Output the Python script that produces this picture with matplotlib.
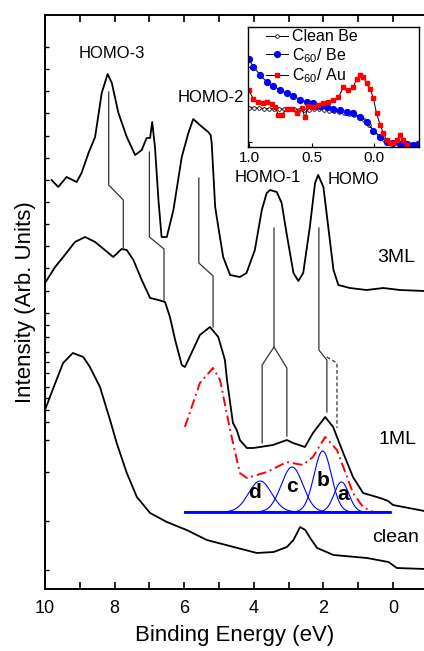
import numpy as np
import matplotlib
matplotlib.use('Agg')
import matplotlib.pyplot as plt
from matplotlib.ticker import FixedLocator

plt.rcParams['font.family'] = ['Liberation Sans', 'DejaVu Sans']
plt.rcParams['mathtext.fontset'] = 'custom'
plt.rcParams['mathtext.rm'] = 'Liberation Sans'

# --- main spectra (binding energy in eV, intensity arb. units) ---
clean_e = [10, 9.76, 9.48, 9.2, 8.9, 8.71, 8.42, 8.13, 7.94, 7.65, 7.36, 6.98, 6.5,
           5.93, 5.35, 4.58, 3.91, 3.43, 3.05, 2.86, 2.67, 2.52, 2.38, 2.18, 1.71,
           0.75, 0.13, -0.11, -0.9]
clean_i = [241, 263, 288, 298, 294, 284, 264, 231, 208, 178, 154, 138, 129,
           121, 111, 104, 98, 99, 104, 111, 124, 121, 113, 103, 96,
           93, 89, 83, 82]

ml1_e = [10, 9.71, 9.43, 9.14, 8.85, 8.56, 8.28, 8.04, 7.8, 7.65, 7.46, 7.22, 6.98,
         6.74, 6.55, 6.41, 6.26, 6.07, 5.98, 5.79, 5.55, 5.26, 5.02, 4.83, 4.77,
         4.6, 4.49, 4.4, 4.2, 4.02, 3.82, 3.45, 3.05, 2.87, 2.53, 2.3, 1.95, 1.72,
         1.43, 1.15, 0.86, 0.37, 0.14, 0.0, -0.9]
ml1_i = [368, 384, 396, 409, 414, 409, 401, 394, 402, 401, 391, 371, 353,
         351, 349, 334, 311, 286, 284, 298, 316, 324, 314, 291, 271,
         228, 221, 211, 203, 203, 204, 206, 211, 208, 204, 218, 234, 224,
         198, 174, 158, 153, 150, 146, 140]

ml3_e = [9.81, 9.62, 9.38, 9.09, 8.95, 8.75, 8.56, 8.37, 8.2, 8.08, 7.89, 7.65, 7.41,
         7.22, 7.08, 6.98, 6.92, 6.84, 6.74, 6.65, 6.5, 6.31, 6.07, 5.88, 5.74,
         5.55, 5.31, 5.24, 5.21, 5.11, 5.02, 4.88, 4.68, 4.4, 4.21, 3.97, 3.77,
         3.63, 3.53, 3.34, 3.2, 3.06, 2.86, 2.72, 2.58, 2.39, 2.24, 2.15, 2.0,
         1.86, 1.71, 1.57, 1.24, 0.76, 0.28, -0.2, -0.9]
ml3_i = [471, 464, 474, 469, 478, 498, 514, 558, 577, 568, 538, 514, 496,
         501, 513, 513, 529, 504, 451, 414, 414, 441, 494, 518, 532,
         526, 519, 516, 508, 444, 424, 394, 376, 374, 378, 401, 441,
         458, 461, 459, 448, 418, 378, 370, 378, 424, 468, 476, 464,
         424, 381, 366, 363, 361, 363, 361, 360]

# fit envelope (red dash-dot)
fit_e = [5.98, 5.55, 5.17, 4.97, 4.68, 4.4, 4.2, 3.62, 3.05, 2.59, 2.3, 1.95, 1.61,
         1.32, 1.15, 0.86, 0.57]
fit_i = [224, 268, 283, 271, 221, 178, 173, 179, 189, 186, 194, 214, 201,
         174, 158, 144, 139]

# gaussian components a-d
comp_names = ['d', 'c', 'b', 'a']
comp_center = [3.82, 2.90, 2.02, 1.48]
comp_height = [31, 45, 61, 30]
comp_sigma = [0.33, 0.31, 0.25, 0.21]
comp_label_e = [3.97, 2.90, 2.01, 1.44]
comp_label_i = [158, 164, 170, 156]
comp_base = 139
comp_range = (5.98, 0.09)

# peak correlation guide lines
guides = [
    ([8.17, 8.17, 7.75, 7.75], [559, 466, 451, 403]),
    ([7.0, 7.0, 6.58, 6.58], [499, 414, 402, 351]),
    ([5.58, 5.58, 5.17, 5.17], [473, 388, 375, 324]),
    ([3.42, 3.42, 3.76, 3.76], [423, 304, 286, 208]),
    ([3.42, 3.05, 3.05], [304, 283, 215]),
    ([2.13, 2.13, 1.9, 1.9], [423, 301, 291, 239]),
]
guide_dash = ([1.9, 1.61, 1.61], [294, 288, 223])

# --- inset: valence band edge ---
be_e = [1.0, 0.96, 0.92, 0.88, 0.84, 0.80, 0.76, 0.72, 0.68, 0.64, 0.60, 0.56, 0.52,
        0.48, 0.44, 0.40, 0.36, 0.32, 0.28, 0.24, 0.20, 0.16, 0.12, 0.08, 0.04, 0.0,
        -0.04, -0.08, -0.12, -0.16, -0.20, -0.24, -0.28, -0.32, -0.36]
be_i = [39, 39, 39, 38.5, 38.5, 38.5, 38, 38, 38, 38, 37.5, 37, 37.5,
        38, 38, 37.5, 36.5, 36, 35, 34, 33.5, 32, 30, 27, 22, 16,
        11, 7, 5, 4, 3.5, 3, 2.8, 2.5, 2.5]

c60be_e = [1.0, 0.965, 0.91, 0.86, 0.805, 0.75, 0.7, 0.645, 0.59, 0.54, 0.485, 0.43,
           0.38, 0.325, 0.27, 0.22, 0.165, 0.11, 0.06, 0.005, -0.05, -0.1, -0.155,
           -0.21, -0.26, -0.315, -0.355]
c60be_i = [88, 80, 72, 65.3, 61, 57, 54, 51, 47, 45.3, 43.7, 41,
           39.7, 38.3, 37, 35.3, 33.7, 30.3, 25.3, 16.3, 10.3, 5.3, 3.7,
           3, 2.7, 2.3, 2.7]

c60au_e = [1.0, 0.965, 0.925, 0.885, 0.86, 0.82, 0.79, 0.765, 0.74, 0.7, 0.66, 0.62,
           0.58, 0.55, 0.525, 0.485, 0.445, 0.405, 0.365, 0.325, 0.285, 0.245, 0.205,
           0.165, 0.14, 0.11, 0.085, 0.06, 0.03, 0.005, -0.02, -0.05, -0.075, -0.1,
           -0.13, -0.155, -0.18, -0.21, -0.235, -0.26]
c60au_i = [57, 47.7, 45.3, 44.3, 45.3, 43, 40.3, 32, 32, 37.7, 37.7, 33.7,
           38.7, 29.7, 41, 40.3, 42, 43.7, 45.3, 47, 49.7, 59.7, 57,
           60.3, 67.7, 72, 69.7, 63.7, 57.7, 48.7, 33.7, 22, 13.7, 7,
           4.3, 4.3, 7, 12, 7, 2]

fig = plt.figure(figsize=(4.24, 6.51), dpi=100)
ax = fig.add_axes([45/424, 62/651, 1 - 45/424, 574/651])

lc = '0.2'
ax.plot(clean_e, clean_i, color='k', lw=1.3)
ax.plot(ml1_e, ml1_i, color='k', lw=1.3)
ax.plot(ml3_e, ml3_i, color='k', lw=1.3)
for gx, gy in guides:
    ax.plot(gx, gy, color=lc, lw=0.9)
ax.plot(guide_dash[0], guide_dash[1], color=lc, lw=0.9, ls=(0, (3, 2)))

ax.plot(fit_e, fit_i, color='red', lw=1.4, ls=(0, (5, 2, 1, 2)))

xg = np.linspace(comp_range[0], comp_range[1], 300)
for c, h, s in zip(comp_center, comp_height, comp_sigma):
    ax.plot(xg, comp_base + h * np.exp(-0.5 * ((xg - c) / s) ** 2), color='blue', lw=0.8)
ax.plot(comp_range, [comp_base, comp_base], color='blue', lw=2)

for name, le, li in zip(comp_names, comp_label_e, comp_label_i):
    ax.text(le, li, name, fontsize=15, fontweight='bold', ha='center', va='center')

ax.text(8.07, 598, 'HOMO-3', fontsize=12, ha='center', va='center')
ax.text(5.23, 554, 'HOMO-2', fontsize=12, ha='center', va='center')
ax.text(3.59, 473, 'HOMO-1', fontsize=12, ha='center', va='center')
ax.text(1.15, 471, 'HOMO', fontsize=12, ha='center', va='center')
ax.text(-0.09, 393, '3ML', fontsize=14, ha='center', va='center')
ax.text(-0.14, 211, '1ML', fontsize=14, ha='center', va='center')
ax.text(-0.06, 113, 'clean', fontsize=14, ha='center', va='center')

ax.set_xlim(10, 10 - 379/34.8)
ax.set_ylim(651 - 589, 651 - 15)
ax.xaxis.set_major_locator(FixedLocator([10, 8, 6, 4, 2, 0]))
ax.xaxis.set_minor_locator(FixedLocator([9, 7, 5, 3, 1]))
ytk = [604, 582, 560, 538, 515, 493, 471, 449, 427, 405, 383, 360, 338, 326, 314,
       299, 289, 278, 264, 253, 241, 229, 211, 179, 130, 81]
ax.yaxis.set_major_locator(FixedLocator(ytk))
ax.set_yticklabels([])
ax.tick_params(axis='x', which='both', direction='in', top=True, labelsize=13,
               length=5, width=1.2, pad=8)
ax.tick_params(axis='y', which='both', direction='in', length=3, width=1)
ax.spines['right'].set_visible(False)
for s in ['left', 'bottom', 'top']:
    ax.spines[s].set_linewidth(1.4)
ax.set_xlabel('Binding Energy (eV)', fontsize=16, labelpad=6)
ax.set_ylabel('Intensity (Arb. Units)', fontsize=16, labelpad=3)

# inset
ins = fig.add_axes([248/424, (651-147)/651, 171/424, 120/651])
ins.plot(be_e, be_i, color='k', lw=0.7, marker='o', ms=2.6, mfc='white', mec='k',
         mew=0.6, label='Clean Be')
ins.plot(c60be_e, c60be_i, color='k', lw=0.7, marker='o', ms=4.2, mfc='blue',
         mec='blue', label='C$_{60}$/ Be')
ins.plot(c60au_e, c60au_i, color='k', lw=0.7, marker='s', ms=3.3, mfc='red',
         mec='red', label='C$_{60}$/ Au')
ins.set_xlim(1.008, -0.36)
ins.set_ylim(0, 120)
ins.xaxis.set_major_locator(FixedLocator([1.0, 0.5, 0.0]))
ins.set_xticklabels(['1.0', '0.5', '0.0'])
ins.yaxis.set_major_locator(FixedLocator([5, 40, 80]))
ins.set_yticklabels([])
ins.tick_params(direction='in', labelsize=11, length=3, width=0.8, pad=3)
for s in ins.spines.values():
    s.set_linewidth(1.0)
ins.legend(loc='upper left', bbox_to_anchor=(0.05, 1.06), frameon=False, fontsize=11.5,
           handlelength=1.4, handletextpad=0.2, labelspacing=0.1, borderaxespad=0.2)

fig.savefig('out.png', dpi=100)
